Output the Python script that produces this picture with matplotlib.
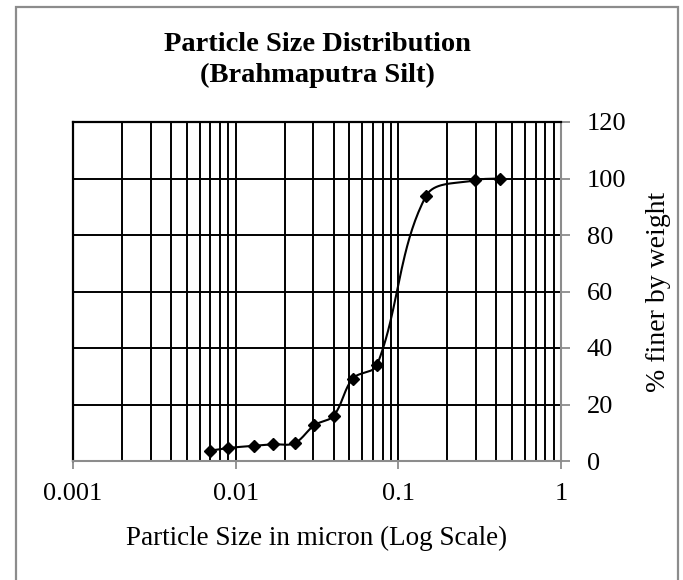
'''
particle size distribution of brahmaputra silt (log x, % finer on right axis)
'''

import numpy as np
import matplotlib
matplotlib.use('Agg')
import matplotlib.pyplot as plt
from matplotlib.ticker import LogLocator, FixedLocator, FuncFormatter
from matplotlib.patches import Rectangle

plt.rcParams['font.family'] = ['Liberation Serif', 'DejaVu Serif']

# data
size_micron = [0.007, 0.009, 0.013, 0.017, 0.023, 0.0305, 0.040, 0.0525, 0.074, 0.148, 0.297, 0.42]
pct_finer = [3.7, 4.6, 5.4, 5.9, 6.3, 12.7, 16.0, 29.2, 34.0, 93.8, 99.4, 100.0]
x_ticks = [0.001, 0.01, 0.1, 1]
y_ticks = [0, 20, 40, 60, 80, 100, 120]


def smooth_line(xs, ys, n=40, sx=163.0, sy=2.825):
    # excel-like smoothed line: cubic bezier through the points, tangent along
    # the neighbours, handle length a third of the segment (pixel space, log x)
    pts = np.column_stack([np.log10(xs) * sx, np.asarray(ys) * sy])
    padded = np.vstack([pts[0], pts, pts[-1]])
    t = np.linspace(0, 1, n)[:, None]
    out = []
    for i in range(len(pts) - 1):
        p0, p1, p2, p3 = padded[i], padded[i + 1], padded[i + 2], padded[i + 3]
        L = np.linalg.norm(p2 - p1)
        d1 = (p2 - p0) / np.linalg.norm(p2 - p0)
        d2 = (p3 - p1) / np.linalg.norm(p3 - p1)
        c1 = p1 + d1 * L / 3.0
        c2 = p2 - d2 * L / 3.0
        seg = ((1 - t) ** 3) * p1 + 3 * ((1 - t) ** 2) * t * c1 + 3 * (1 - t) * t ** 2 * c2 + t ** 3 * p2
        out.append(seg if i == 0 else seg[1:])
    out = np.vstack(out)
    return 10 ** (out[:, 0] / sx), out[:, 1] / sy


fig = plt.figure(figsize=(6.83, 5.8), dpi=100)
ax = fig.add_axes([73 / 683, 1 - 461 / 580, (561 - 73) / 683, (461 - 122) / 580])

# chart border
fig.add_artist(Rectangle((15.5 / 683, -0.05), (678 - 15.5) / 683, 1.05 - 6.5 / 580,
                         transform=fig.transFigure, fill=False, edgecolor='#8c8c8c',
                         linewidth=1.6, clip_on=False))

ax.set_xscale('log')
ax.set_xlim(0.001, 1)
ax.set_ylim(0, 120)

sx_line, sy_line = smooth_line(size_micron, pct_finer)
ax.plot(sx_line, sy_line, color='black', linewidth=1.5, zorder=3)
ax.plot(size_micron, pct_finer, linestyle='none', marker='D', markersize=6.5,
        color='black', zorder=4)

# grid
ax.xaxis.set_major_locator(FixedLocator(x_ticks))
ax.xaxis.set_minor_locator(LogLocator(base=10, subs=np.arange(2, 10)))
ax.xaxis.set_minor_formatter(FuncFormatter(lambda v, p: ''))
ax.xaxis.set_major_formatter(FuncFormatter(lambda v, p: '%g' % v))
ax.set_yticks(y_ticks)
ax.grid(True, which='major', axis='both', color='black', linewidth=1.4)
ax.grid(True, which='minor', axis='x', color='black', linewidth=1.4)
ax.set_axisbelow(True)

ax.yaxis.tick_right()
ax.yaxis.set_label_position('right')

for s in ['left', 'top']:
    ax.spines[s].set_color('black')
    ax.spines[s].set_linewidth(1.6)
for s in ['right', 'bottom']:
    ax.spines[s].set_color('#8c8c8c')
    ax.spines[s].set_linewidth(1.5)

ax.tick_params(axis='x', which='major', direction='out', length=6, width=1.3,
               color='#8c8c8c', labelsize=19, pad=10)
ax.tick_params(axis='x', which='minor', length=0)
ax.tick_params(axis='y', direction='out', length=6.5, width=1.3,
               color='#8c8c8c', labelsize=19, pad=12, left=False, right=True)

ax.set_xlabel('Particle Size in micron (Log Scale)', fontsize=19.5, labelpad=15)
ax.set_ylabel('% finer by weight', fontsize=20, labelpad=14)
ax.set_title('Particle Size Distribution\n(Brahmaputra Silt)', fontsize=20.5,
             fontweight='bold', linespacing=1.3, pad=29)

plt.savefig('out.png', dpi=100)
